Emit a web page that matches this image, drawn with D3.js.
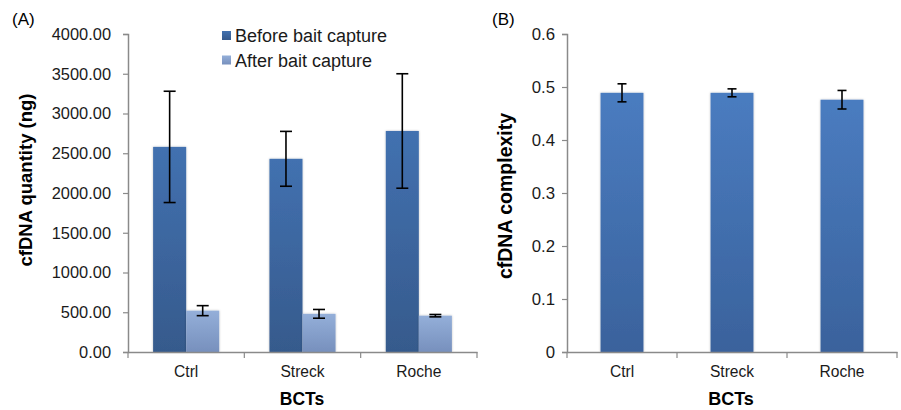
<!DOCTYPE html>
<html>
<head>
<meta charset="UTF-8">
<title>cfDNA BCTs</title>
<script src="https://d3js.org/d3.v7.min.js"></script>
<style>
  body { margin: 0; background: #fff; }
  svg { display: block; font-family: "Liberation Sans", Arial, sans-serif; }
</style>
</head>
<body>
<svg id="chart" width="901" height="410"></svg>
<script>
// data
var categories = ["Ctrl", "Streck", "Roche"];
var beforeValues = [2580, 2430, 2780];
var beforeErrors = [700, 345, 720];
var afterValues = [520, 480, 457];
var afterErrors = [63, 55, 15];
var complexityValues = [0.489, 0.489, 0.476];
var complexityErrors = [0.017, 0.0075, 0.0175];
var quantityTicks = [0, 500, 1000, 1500, 2000, 2500, 3000, 3500, 4000];
var complexityTicks = [0, 0.1, 0.2, 0.3, 0.4, 0.5, 0.6];
var seriesNames = ["Before bait capture", "After bait capture"];

var svg = d3.select("#chart");
var axisColor = "#8a8a8a";
var plotTop = 34, plotBottom = 352;

// gradients
var defs = svg.append("defs");
function grad(id, c1, c2) {
    var g = defs.append("linearGradient").attr("id", id)
        .attr("x1", 0).attr("y1", 0).attr("x2", 0).attr("y2", 1);
    g.append("stop").attr("offset", "0%").attr("stop-color", c1);
    g.append("stop").attr("offset", "100%").attr("stop-color", c2);
}
grad("gBefore", "#4271b0", "#365a8c");
grad("gAfter", "#94afd9", "#7790bd");
grad("gComp", "#4a7cc0", "#3a629c");
var f = defs.append("filter").attr("id", "shadow")
    .attr("x", "-20%").attr("y", "-5%").attr("width", "140%").attr("height", "110%");
f.append("feDropShadow").attr("dx", 0).attr("dy", 0).attr("stdDeviation", 1.2)
    .attr("flood-color", "#000").attr("flood-opacity", 0.25);

function styleAxis(g) {
    g.selectAll(".domain").attr("stroke", axisColor).attr("stroke-width", 1.5);
    g.selectAll(".tick line").attr("stroke", axisColor).attr("stroke-width", 1.2);
    g.selectAll(".tick text").attr("fill", "#1a1a1a");
}

function errorBars(g, data, x, y, cap) {
    var eb = g.append("g").attr("stroke", "#000").attr("stroke-width", 1.6);
    data.forEach(function (d) {
        eb.append("line").attr("x1", x(d)).attr("x2", x(d))
            .attr("y1", y(d.v + d.e)).attr("y2", y(d.v - d.e));
        eb.append("line").attr("x1", x(d) - cap / 2).attr("x2", x(d) + cap / 2)
            .attr("y1", y(d.v + d.e)).attr("y2", y(d.v + d.e));
        eb.append("line").attr("x1", x(d) - cap / 2).attr("x2", x(d) + cap / 2)
            .attr("y1", y(d.v - d.e)).attr("y2", y(d.v - d.e));
    });
}

// ---------- Panel A ----------
var xA = d3.scaleBand().domain(categories).range([128, 477]);
var sub = d3.scaleBand().domain(["before", "after"]).range([0, xA.bandwidth()]).paddingOuter(0.76);
var yA = d3.scaleLinear().domain([0, 4000]).range([plotBottom, plotTop]);

var gA = svg.append("g");
var ay = gA.append("g").attr("transform", "translate(128,0)")
    .call(d3.axisLeft(yA).tickValues(quantityTicks).tickFormat(d3.format(".2f")).tickSize(5).tickPadding(12))
    .attr("font-size", 16.4).attr("font-family", null);
styleAxis(ay);

var dataA = [];
categories.forEach(function (c, i) {
    dataA.push({ c: c, s: "before", v: beforeValues[i], e: beforeErrors[i] });
    dataA.push({ c: c, s: "after", v: afterValues[i], e: afterErrors[i] });
});
gA.selectAll("rect.bar").data(dataA).enter().append("rect")
    .attr("class", "bar")
    .attr("x", function (d) { return xA(d.c) + sub(d.s); })
    .attr("width", sub.bandwidth())
    .attr("y", function (d) { return yA(d.v); })
    .attr("height", function (d) { return yA(0) - yA(d.v); })
    .attr("fill", function (d) { return d.s == "before" ? "url(#gBefore)" : "url(#gAfter)"; })
    .attr("filter", "url(#shadow)");
errorBars(gA, dataA, function (d) { return xA(d.c) + sub(d.s) + sub.bandwidth() / 2; }, yA, 12);

var axA = gA.append("g").attr("transform", "translate(0," + plotBottom + ")")
    .call(d3.axisBottom(xA).tickSize(0).tickPadding(14))
    .attr("font-size", 15.6).attr("font-family", null);
styleAxis(axA);
categories.concat(["end"]).forEach(function (c) {
    var xx = c == "end" ? xA.range()[1] : xA(c);
    gA.append("line").attr("x1", xx).attr("x2", xx).attr("y1", plotBottom).attr("y2", plotBottom + 6)
        .attr("stroke", axisColor).attr("stroke-width", 1.2);
});

gA.append("text").attr("x", 302).attr("y", 405).attr("text-anchor", "middle")
    .attr("font-weight", "bold").attr("font-size", 17.5).text("BCTs");
gA.append("text").attr("transform", "translate(32,180) rotate(-90)").attr("text-anchor", "middle")
    .attr("font-weight", "bold").attr("font-size", 18.5).text("cfDNA quantity (ng)");
gA.append("text").attr("x", 12).attr("y", 25).attr("font-size", 17).text("(A)");

// legend
var legend = gA.append("g");
seriesNames.forEach(function (n, i) {
    legend.append("rect").attr("x", 222).attr("y", 31 + i * 24.5).attr("width", 9).attr("height", 9)
        .attr("fill", i == 0 ? "url(#gBefore)" : "url(#gAfter)");
    legend.append("text").attr("x", 235).attr("y", 42 + i * 24.5).attr("font-size", 18).attr("fill", "#1a1a1a").text(n);
});

// ---------- Panel B ----------
var xB = d3.scaleBand().domain(categories).range([567, 897]).paddingInner(0.61).paddingOuter(0.305);
var xBaxis = d3.scaleBand().domain(categories).range([567, 897]);
var yB = d3.scaleLinear().domain([0, 0.6]).range([plotBottom, plotTop]);

var gB = svg.append("g");
var by = gB.append("g").attr("transform", "translate(567,0)")
    .call(d3.axisLeft(yB).tickValues(complexityTicks).tickFormat(function (d) { return d === 0 ? "0" : d3.format(".1f")(d); }).tickSize(5).tickPadding(7))
    .attr("font-size", 16.8).attr("font-family", null);
styleAxis(by);

var dataB = categories.map(function (c, i) { return { c: c, v: complexityValues[i], e: complexityErrors[i] }; });
gB.selectAll("rect.bar").data(dataB).enter().append("rect")
    .attr("class", "bar")
    .attr("x", function (d) { return xB(d.c); })
    .attr("width", xB.bandwidth())
    .attr("y", function (d) { return yB(d.v); })
    .attr("height", function (d) { return yB(0) - yB(d.v); })
    .attr("fill", "url(#gComp)")
    .attr("filter", "url(#shadow)");
errorBars(gB, dataB, function (d) { return xB(d.c) + xB.bandwidth() / 2; }, yB, 9);

var axB = gB.append("g").attr("transform", "translate(0," + plotBottom + ")")
    .call(d3.axisBottom(xBaxis).tickSize(0).tickPadding(14))
    .attr("font-size", 15.6).attr("font-family", null);
styleAxis(axB);
categories.concat(["end"]).forEach(function (c) {
    var xx = c == "end" ? xBaxis.range()[1] : xBaxis(c);
    gB.append("line").attr("x1", xx).attr("x2", xx).attr("y1", plotBottom).attr("y2", plotBottom + 6)
        .attr("stroke", axisColor).attr("stroke-width", 1.2);
});

gB.append("text").attr("x", 731).attr("y", 405).attr("text-anchor", "middle")
    .attr("font-weight", "bold").attr("font-size", 18).text("BCTs");
gB.append("text").attr("transform", "translate(512,196) rotate(-90)").attr("text-anchor", "middle")
    .attr("font-weight", "bold").attr("font-size", 19.5).text("cfDNA complexity");
gB.append("text").attr("x", 492).attr("y", 25).attr("font-size", 17).text("(B)");
</script>
</body>
</html>
